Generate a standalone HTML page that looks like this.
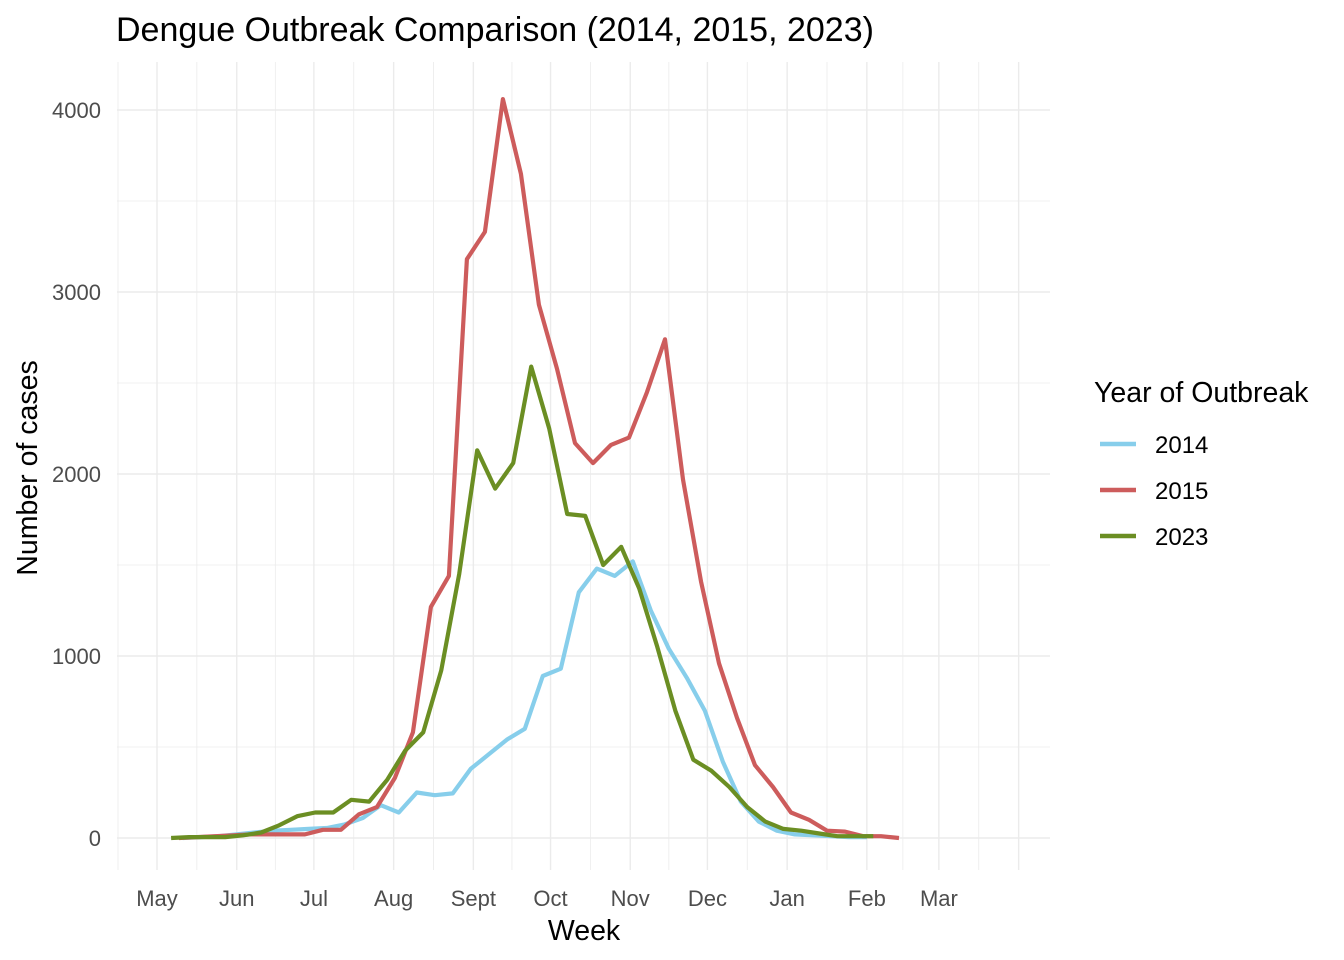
<!DOCTYPE html>
<html><head><meta charset="utf-8"><style>
html,body{margin:0;padding:0;background:#fff;}
svg{display:block;font-family:"Liberation Sans",Arial,sans-serif;}
</style></head><body>
<svg id="chart" width="1344" height="960" viewBox="0 0 1344 960" xmlns="http://www.w3.org/2000/svg">
<rect width="1344" height="960" fill="#fff"/>
<g id="grid"></g>
<g id="series"></g>
<g id="yticks"></g>
<g id="xticks"></g>
<text x="116" y="41" font-size="34" fill="#000">Dengue Outbreak Comparison (2014, 2015, 2023)</text>
<text x="584" y="940" font-size="28.5" text-anchor="middle" fill="#000">Week</text>
<text transform="translate(37,468) rotate(-90)" font-size="28.5" text-anchor="middle" fill="#000">Number of cases</text>
<g id="legend">
<text x="1094" y="402" font-size="28.5" fill="#000">Year of Outbreak</text>
</g>
</svg>
<script>
// Data: days since May 1 for first weekly point, then weekly case counts
const seriesNames = ["2014", "2015", "2023"];
const seriesColors = ["#87CEEB", "#CD5C5C", "#6B8E23"];
const startDays = [10, 8.5, 5.5];
const cases2014 = [0,5,10,20,30,40,45,50,55,75,110,180,140,250,235,245,380,460,540,600,890,930,1350,1480,1440,1520,1250,1040,880,700,420,200,90,40,20,15,10,5,5];
const cases2015 = [0,5,10,15,20,20,20,20,45,45,130,170,330,580,1270,1440,3180,3330,4060,3650,2930,2580,2170,2060,2160,2200,2450,2740,1970,1410,960,660,400,280,140,100,40,35,10,10,0];
const cases2023 = [0,5,5,5,15,30,70,120,140,140,210,200,320,480,580,920,1450,2130,1920,2060,2590,2250,1780,1770,1500,1600,1370,1050,700,430,370,280,170,90,50,40,25,10,10,10];
const yTicks = [0, 1000, 2000, 3000, 4000];
const monthLabels = ["May","Jun","Jul","Aug","Sept","Oct","Nov","Dec","Jan","Feb","Mar"];
const monthDays = [0,31,61,92,123,153,184,214,245,276,304];

const NS = "http://www.w3.org/2000/svg";
const panel = {l:117, r:1050, t:62, b:870};
const xScale = d => 157 + d * 2.572;
const yScale = v => 838 - v * 0.182;
function mk(tag, attrs, parent){ const e=document.createElementNS(NS,tag); for(const k in attrs) e.setAttribute(k,attrs[k]); parent.appendChild(e); return e; }

const grid = document.getElementById('grid');
for (let v = 0; v <= 4000; v += 500) {
  const ln = mk('line',{x1:panel.l,x2:panel.r,y1:yScale(v),y2:yScale(v),stroke:'#ebebeb','stroke-width': v%1000===0?1.4:0.8},grid);
  
  
}
const allMajor = monthDays.concat([335]);
const vlines = [];
allMajor.forEach((d,i)=>{ vlines.push([xScale(d),1.4]); if(i<allMajor.length-1) vlines.push([(xScale(d)+xScale(allMajor[i+1]))/2,0.8]); });
vlines.push([panel.l+1,0.8]);
vlines.forEach(([x,w])=>{ if(x>=panel.l && x<=panel.r){
  const ln = mk('line',{x1:x,x2:x,y1:panel.t,y2:panel.b,stroke:'#ebebeb','stroke-width':w},grid);
  
  
}});

const yt = document.getElementById('yticks');
yTicks.forEach(v=>{
  const t = mk('text',{x:101,y:yScale(v)+8,'font-size':22,'text-anchor':'end',fill:'#4d4d4d'},yt);
  t.textContent = v;
  
  
});
const xt = document.getElementById('xticks');
monthLabels.forEach((m,i)=>{
  const t = mk('text',{x:xScale(monthDays[i]),y:906,'font-size':22,'text-anchor':'middle',fill:'#4d4d4d'},xt);
  t.textContent = m;
  
  
});

const sg = document.getElementById('series');
const allCases = [cases2014, cases2015, cases2023];
allCases.forEach((arr,si)=>{
  const pts = arr.map((v,i)=> xScale(startDays[si]+7*i).toFixed(1)+','+yScale(v).toFixed(1)).join(' ');
  const pl = mk('polyline',{points:pts,fill:'none',stroke:seriesColors[si],'stroke-width':4.2,'stroke-linejoin':'round'},sg);
  
  
});

const lg = document.getElementById('legend');
seriesNames.forEach((n,i)=>{
  const y = 444 + i*46;
  const ln = mk('line',{x1:1100,x2:1136,y1:y,y2:y,stroke:seriesColors[i],'stroke-width':4.5},lg);
  
  
  const t = mk('text',{x:1155,y:y+9,'font-size':24,fill:'#000'},lg);
  t.textContent = n;
  
  
});
</script>
</body></html>
